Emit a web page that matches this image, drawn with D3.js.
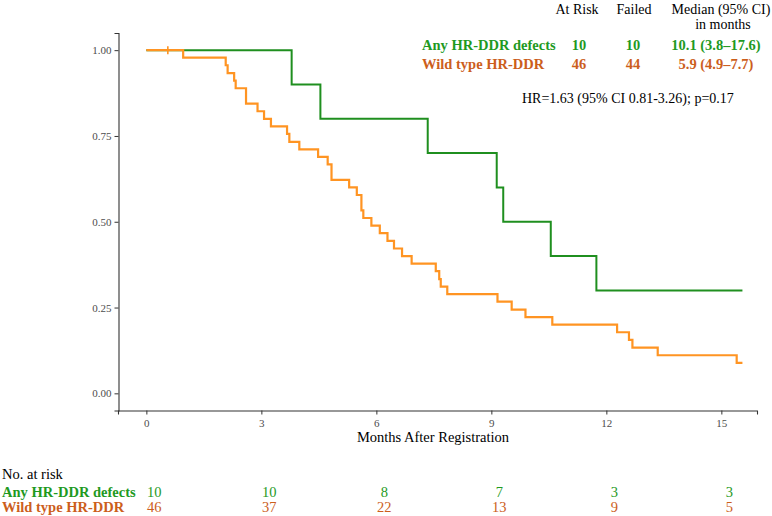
<!DOCTYPE html>
<html>
<head>
<meta charset="utf-8">
<script src="https://cdn.jsdelivr.net/npm/d3@7"></script>
<style>
  html, body { margin: 0; padding: 0; background: #ffffff; }
  svg { display: block; }
  svg text { font-family: "Liberation Serif", "Times New Roman", Times, "DejaVu Serif", serif; }
</style>
</head>
<body>
<svg id="chart" width="772" height="516" font-family="Liberation Serif, Times New Roman, serif"></svg>
<script>
// ---- Data ----
const groups = ["Any HR-DDR defects", "Wild type HR-DDR"];
const groupAtRisk = ["10", "46"];
const groupFailed = ["10", "44"];
const groupMedian = ["10.1 (3.8\u201317.6)", "5.9 (4.9\u20137.7)"];
const hrText = "HR=1.63 (95% CI 0.81-3.26); p=0.17";

// Any HR-DDR defects: step times (months) and survival after each step
const hrTimes = [0, 3.79, 4.54, 7.34, 9.14, 9.31, 10.55, 11.74];
const hrSurv  = [1.00, 0.90, 0.80, 0.70, 0.60, 0.50, 0.40, 0.30];
const hrEnd = 15.55;

// Wild type HR-DDR: step times (months) and survival after each step
const wtTimes = [0, 0.96, 2.07, 2.12, 2.29, 2.33, 2.60, 2.90, 3.07, 3.25, 3.67,
  3.73, 3.99, 4.48, 4.73, 4.83, 5.29, 5.49, 5.61, 5.66, 5.87, 6.09, 6.29, 6.46,
  6.67, 6.92, 7.55, 7.64, 7.68, 7.85, 9.16, 9.53, 9.89, 10.59, 12.28, 12.59,
  12.68, 13.34, 15.40];
const wtSurv = [1.000, 0.978, 0.956, 0.933, 0.911, 0.889, 0.844, 0.822, 0.800,
  0.778, 0.756, 0.733, 0.711, 0.689, 0.667, 0.622, 0.600, 0.578, 0.533, 0.511,
  0.489, 0.467, 0.444, 0.422, 0.400, 0.378, 0.356, 0.333, 0.311, 0.289, 0.267,
  0.244, 0.222, 0.200, 0.178, 0.156, 0.133, 0.111, 0.089];
const wtEnd = 15.55;
const wtCensorTimes = [0.56];
const wtCensorSurv = [1.00];

const xTicks = [0, 3, 6, 9, 12, 15];
const yTicks = [0, 0.25, 0.50, 0.75, 1.00];
const yTickLabels = ["0.00", "0.25", "0.50", "0.75", "1.00"];
const riskTimes = [0, 3, 6, 9, 12, 15];
const riskHR = [10, 10, 8, 7, 3, 3];
const riskWT = [46, 37, 22, 13, 9, 5];

// ---- Styles ----
const FONT = "'Liberation Serif', 'Times New Roman', Times, serif";
const greenLine = "#1f8f1f";
const greenText = "#1f9a1f";
const orangeLine = "#ff9422";
const orangeText = "#cc5e1c";
const axisCol = "#333333";
const tickTextCol = "#4d4d4d";

const svg = d3.select("#chart");

const x = d3.scaleLinear().domain([-0.74, 15.93]).range([118, 757]);
const y = d3.scaleLinear().domain([-0.05, 1.05]).range([410.5, 33]);

function txt(sel) { return sel.style("font-family", FONT); }

// ---- Axes ----
const xAxis = svg.append("g").attr("transform", "translate(0,410.5)")
  .call(d3.axisBottom(x).tickValues(xTicks).tickFormat(d3.format("d")).tickSizeOuter(0).tickSize(4));
xAxis.attr("font-family", null);
xAxis.select(".domain").attr("stroke", axisCol).attr("stroke-width", 1.1);
xAxis.selectAll(".tick line").attr("stroke", axisCol);
txt(xAxis.selectAll(".tick text")).attr("fill", tickTextCol)
  .style("font-size", "11px").attr("dy", "0.9em");

const yAxis = svg.append("g").attr("transform", "translate(118.5,0)")
  .call(d3.axisLeft(y).tickValues(yTicks).tickFormat((d, i) => yTickLabels[i]).tickSizeOuter(0).tickSize(4));
yAxis.attr("font-family", null);
yAxis.select(".domain").attr("stroke", axisCol).attr("stroke-width", 1.1);
yAxis.selectAll(".tick line").attr("stroke", axisCol);
txt(yAxis.selectAll(".tick text")).attr("fill", tickTextCol)
  .style("font-size", "11px").attr("x", -7);

txt(svg.append("text")).attr("x", 433).attr("y", 442).attr("text-anchor", "middle")
  .style("font-size", "14.5px").attr("fill", "#000").text("Months After Registration");

// ---- Curves ----
const line = d3.line().x(d => x(d[0])).y(d => y(d[1])).curve(d3.curveStepAfter);

const hrPts = hrTimes.map((t, i) => [t, hrSurv[i]]);
hrPts.push([hrEnd, hrSurv[hrSurv.length - 1]]);
const wtPts = wtTimes.map((t, i) => [t, wtSurv[i]]);
wtPts.push([wtEnd, wtSurv[wtSurv.length - 1]]);

svg.append("path").attr("d", line(hrPts)).attr("fill", "none")
  .attr("stroke", greenLine).attr("stroke-width", 2);
svg.append("path").attr("d", line(wtPts)).attr("fill", "none")
  .attr("stroke", orangeLine).attr("stroke-width", 2.2);

wtCensorTimes.forEach((t, i) => {
  const cx = x(t), cy = y(wtCensorSurv[i]);
  svg.append("path").attr("d", `M${cx - 4},${cy}H${cx + 4}M${cx},${cy - 4}V${cy + 4}`)
    .attr("stroke", orangeLine).attr("stroke-width", 1.6);
});

// ---- Legend table (top right) ----
const hdrItems = [["At Risk", 577, 14], ["Failed", 634, 14], ["Median (95% CI)", 721, 14], ["in months", 723, 29]];
hdrItems.forEach(h => {
  txt(svg.append("text")).attr("x", h[1]).attr("y", h[2]).attr("text-anchor", "middle")
    .style("font-size", "14px").attr("fill", "#000").text(h[0]);
});

const legCols = [greenText, orangeText];
const legY = [49.5, 68.5];
groups.forEach((g, i) => {
  const items = [[g, 422, "start"], [groupAtRisk[i], 579, "middle"], [groupFailed[i], 633, "middle"], [groupMedian[i], 716, "middle"]];
  items.forEach(it => {
    txt(svg.append("text")).attr("x", it[1]).attr("y", legY[i]).attr("text-anchor", it[2])
      .attr("fill", legCols[i]).style("font-size", "14.5px").style("font-weight", "bold").text(it[0]);
  });
});

txt(svg.append("text")).attr("x", 522).attr("y", 103).style("font-size", "14px").attr("fill", "#000").text(hrText);

// ---- Risk table ----
txt(svg.append("text")).attr("x", 2).attr("y", 479).style("font-size", "14.5px").attr("fill", "#000").text("No. at risk");
const riskRows = [riskHR, riskWT];
const riskY = [496.5, 512];
groups.forEach((g, i) => {
  txt(svg.append("text")).attr("x", 2).attr("y", riskY[i]).style("font-size", "14.5px")
    .style("font-weight", "bold").attr("fill", legCols[i]).text(g);
  riskRows[i].forEach((v, j) => {
    txt(svg.append("text")).attr("x", x(riskTimes[j]) + 8).attr("y", riskY[i])
      .attr("text-anchor", "middle").style("font-size", "14.5px").attr("fill", legCols[i]).text(v);
  });
});
</script>
</body>
</html>
